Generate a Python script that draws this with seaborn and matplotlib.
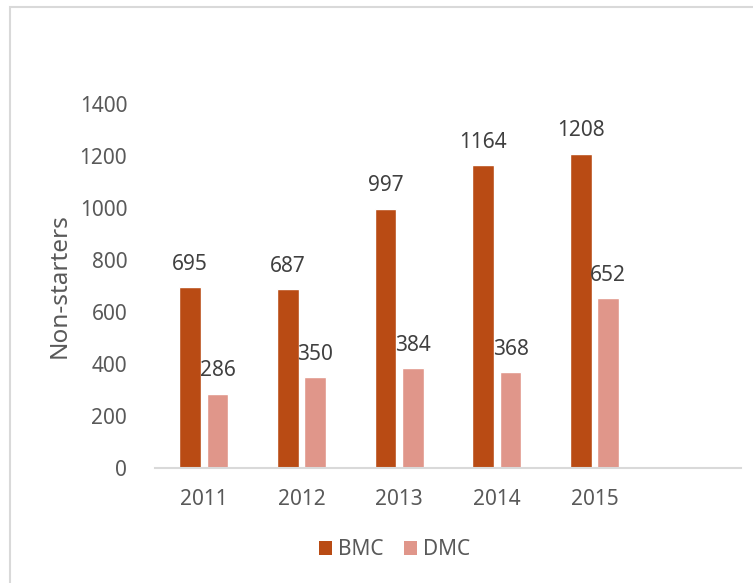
import matplotlib
matplotlib.use("Agg")
import matplotlib.pyplot as plt
import seaborn as sns
import pandas as pd
from matplotlib.patches import Rectangle, Patch

years = ["2011", "2012", "2013", "2014", "2015"]
bmc = [695, 687, 997, 1164, 1208]
dmc = [286, 350, 384, 368, 652]
series = ["BMC", "DMC"]
colors = ["#B94B14", "#E0968A"]
yticks = [0, 200, 400, 600, 800, 1000, 1200, 1400]

df = pd.DataFrame({
    "Year": years * 2,
    "Value": bmc + dmc,
    "Series": ["BMC"] * len(years) + ["DMC"] * len(years),
})

sns.set_theme(style="white")
plt.rcParams["font.family"] = ["Noto Sans", "DejaVu Sans"]

fig = plt.figure(figsize=(7.53, 5.83), dpi=100)
ax = fig.add_axes([155 / 753, 1 - 468 / 583, (741 - 155) / 753, (468 - 104) / 583])

sns.barplot(data=df, x="Year", y="Value", hue="Series", order=years,
            hue_order=series, palette=colors, width=0.56, gap=0.2,
            saturation=1, ax=ax, legend=False)

for cont in ax.containers:
    ax.bar_label(cont, padding=9, fontsize=15, color="#404040")

ax.set_xlim(-0.5, 5.5)
ax.set_ylim(0, 1400)
ax.set_yticks(yticks)
ax.set_yticklabels([str(t) for t in yticks])
ax.set_xticks(range(len(years)))
ax.set_xticklabels(years)
ax.tick_params(axis="both", length=0, labelsize=15, colors="#595959")
ax.tick_params(axis="y", pad=20)
ax.tick_params(axis="x", pad=15)
ax.set_xlabel("")
ax.set_ylabel("Non-starters", fontsize=17.5, color="#595959", labelpad=6)

for s in ["top", "right", "left"]:
    ax.spines[s].set_visible(False)
ax.spines["bottom"].set_color("#D9D9D9")
ax.spines["bottom"].set_linewidth(1.5)

handles = [Patch(facecolor=c, edgecolor="none") for c in colors]
fig.legend(handles, series, loc="center", bbox_to_anchor=(0.524, 0.057),
           ncol=2, frameon=False, fontsize=15, labelcolor="#595959",
           handlelength=0.6, handleheight=0.6, handletextpad=0.3,
           columnspacing=1.0)

fig.patches.append(Rectangle((10 / 753, -0.1), 1.2, 1 - 7 / 583 + 0.1,
                             transform=fig.transFigure, fill=False,
                             edgecolor="#D9D9D9", linewidth=1.5))

fig.savefig("out.png", dpi=100)
